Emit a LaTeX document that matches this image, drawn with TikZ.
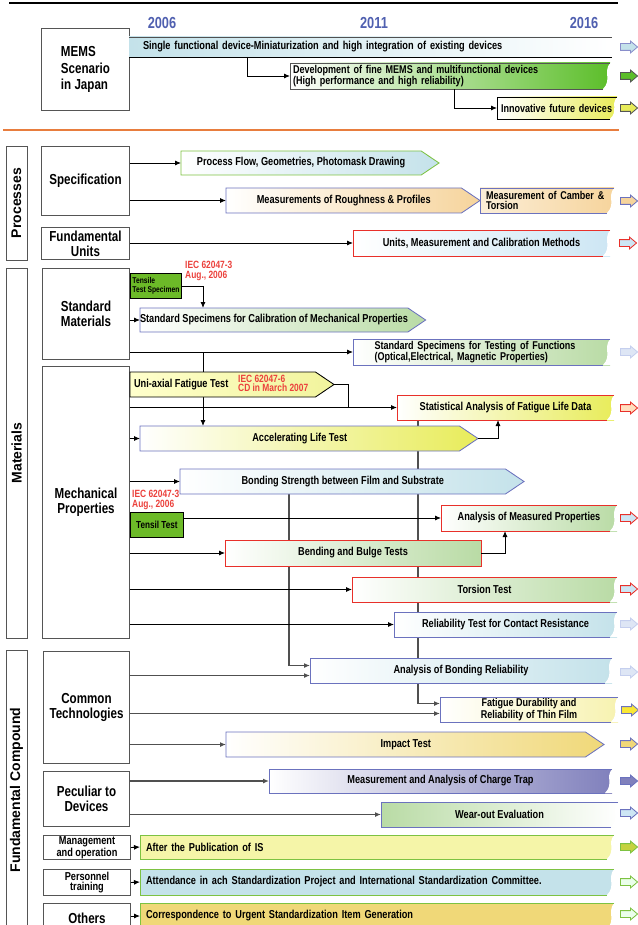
\documentclass[tikz,border=0pt]{standalone}
\usepackage{fontspec}
\setmainfont{Liberation Sans}[FakeStretch=0.8]
\newfontfamily\sidefont{Liberation Sans}
\usetikzlibrary{arrows.meta}
\usetikzlibrary{shapes.symbols,shapes.arrows}
\usetikzlibrary{backgrounds}
\tikzset{>={Latex[length=6pt,width=5pt]}}
\definecolor{boxgray}{RGB}{85,85,85}
\definecolor{linegray}{RGB}{80,80,80}
\definecolor{barblue}{RGB}{107,114,190}
\definecolor{barred}{RGB}{232,48,42}
\definecolor{bargreen}{RGB}{125,194,66}
\definecolor{yearblue}{RGB}{80,96,176}
\definecolor{orangeline}{RGB}{232,125,62}
\definecolor{notered}{RGB}{235,65,60}
\definecolor{paleblue}{RGB}{196,226,234}
\definecolor{peach}{RGB}{246,212,156}
\definecolor{skyblue}{RGB}{205,230,244}
\definecolor{leafgreen}{RGB}{185,219,165}
\definecolor{lemon}{RGB}{232,236,90}
\definecolor{gold}{RGB}{240,216,120}
\definecolor{cream}{RGB}{247,242,176}
\definecolor{violet}{RGB}{128,128,188}
\definecolor{grassgreen}{RGB}{92,190,42}
\definecolor{specgreen}{RGB}{108,186,40}
\definecolor{paleyellow}{RGB}{245,245,168}
\definecolor{fadeblue}{RGB}{222,230,245}
\definecolor{fadeline}{RGB}{197,207,238}
\tikzstyle{mainbox}=[draw=boxgray,line width=0.35mm,fill=white,align=center,inner sep=0pt,anchor=north west,font=\bfseries\fontsize{14.5}{15}\selectfont]
\tikzstyle{sidebox}=[draw=boxgray,line width=0.35mm,fill=white,inner sep=0pt,font=\sidefont\bfseries\fontsize{14}{14}\selectfont]
\tikzstyle{specbox}=[draw=black,line width=0.3mm,fill=specgreen,inner sep=0pt,anchor=north west,align=left]
\tikzstyle{bartext}=[inner sep=0pt,outer sep=0pt,anchor=north west,font=\bfseries\fontsize{11.5}{11}\selectfont]
\tikzstyle{smallbar}=[font=\bfseries\fontsize{11.3}{10.5}\selectfont]
\tikzstyle{arrowbar}=[bartext,shape=signal,signal to=east,signal pointer angle=68,line width=0.3mm]
\tikzstyle{notetext}=[inner sep=0pt,anchor=north west,align=left,text=notered,font=\bfseries\fontsize{10.5}{9.5}\selectfont]
\tikzstyle{tailarrow}=[single arrow,minimum height=17,single arrow head extend=2.5pt,single arrow tip angle=80,
  inner xsep=0pt,inner ysep=3pt,line width=0.3mm]
\tikzstyle{conn}=[->,draw=black,line width=0.3mm]
\tikzstyle{graylink}=[draw=linegray,line width=0.45mm]
% wavy right end of a bar node: #1 node, #2 border colour
\newcommand{\wavyedge}[2]{%
  \fill[white] (#1.north east) .. controls +(-7pt,-9pt) and +(9pt,9pt) .. ([xshift=-7pt]#1.south east)
    -- ([xshift=1pt]#1.south east) -- ([xshift=1pt]#1.north east) -- cycle;
  \draw[#2,line width=0.3mm] (#1.north east) -- (#1.north west) -- (#1.south west) -- ([xshift=-7pt]#1.south east);
}

\begin{document}
\begin{tikzpicture}[x=1pt,y=-1pt]
  \useasboundingbox (0,0) rectangle (637,925);

  % scenario
  \draw[line width=0.8mm] (9,3) -- (618,3);
  \node[text=yearblue,font=\bfseries\fontsize{16}{16}\selectfont] (y06) at (162,23) {2006};
  \node[text=yearblue,font=\bfseries\fontsize{16}{16}\selectfont] (y11) at (374,23) {2011};
  \node[text=yearblue,font=\bfseries\fontsize{16}{16}\selectfont] (y16) at (584,23) {2016};
  \node[mainbox,minimum width=88,minimum height=82,align=left,font=\bfseries\fontsize{14.5}{16.5}\selectfont] (mems) at (41,28) {MEMS\\Scenario\\in Japan};
  \node[bartext,minimum width=481,minimum height=20,inner xsep=14pt,text width=453,align=left,
    left color=paleblue,right color=white] (b1) at (129,37)
    {Single functional device-Miniaturization and high integration of existing devices};
  \draw[linegray] (b1.north west) -- ([xshift=2pt]b1.north east);
  \draw (b1.south west) -- ([xshift=2pt]b1.south east);
  \node[bartext,smallbar,minimum width=320,minimum height=26,inner xsep=3pt,text width=314,align=left,
    left color=white,right color=grassgreen] (b2) at (290,63)
    {Development of fine MEMS and multifunctional devices\\(High performance and high reliability)};
  \wavyedge{b2}{boxgray}
  \node[bartext,smallbar,minimum width=120,minimum height=22,inner xsep=4pt,text width=112,align=left,
    left color=white,right color=lemon] (b3) at (497,97)
    {Innovative future devices};
  \wavyedge{b3}{black}
  \coordinate (k1) at (247,57);
  \coordinate (k2) at (454,89);
  \draw[conn] (k1) |- (b2.west);
  \draw[conn] (k2) |- (b3.west);
  \node[tailarrow,fill=paleblue,draw=barblue!80] (t1) at (627,47) {};
  \node[tailarrow,fill=grassgreen,draw=boxgray] (t2) at (627,76) {};
  \node[tailarrow,fill=lemon,draw=boxgray] (t3) at (627,108) {};
  \draw[orangeline,line width=0.8mm] (3,130) -- (619,130);

  % processes
  \node[sidebox,rotate=90,minimum width=114,minimum height=21] (proc) at (16.5,203) {Processes};
  \node[mainbox,minimum width=88,minimum height=69] (spec) at (41,146) {Specification};
  \node[mainbox,minimum width=88,minimum height=32] (fu) at (41,227) {Fundamental\\Units};
  \node[arrowbar,draw=bargreen,left color=white,right color=paleblue,minimum width=258,minimum height=24] (pf) at (181,151)
    {Process Flow, Geometries, Photomask Drawing};
  \node[arrowbar,draw=barblue,left color=white,right color=peach,minimum width=254,minimum height=25] (mr) at (226,188)
    {Measurements of Roughness \& Profiles};
  \node[bartext,smallbar,minimum width=134,minimum height=25,inner xsep=6pt,text width=122,align=left,
    left color=peach!40,right color=peach] (cb) at (480,188)
    {Measurement of Camber \&\\Torsion};
  \wavyedge{cb}{barblue}
  \node[bartext,minimum width=257,minimum height=26,left color=white,right color=skyblue] (un) at (353,230)
    {Units, Measurement and Calibration Methods};
  \wavyedge{un}{barred}
  \draw[conn] (spec.east |- pf.west) -- (pf.west);
  \draw[conn] (spec.east |- mr.west) -- (mr.west);
  \draw[conn] (fu.east |- un.west) -- (un.west);
  \node[tailarrow,fill=peach,draw=barblue] (t4) at (627,201) {};
  \node[tailarrow,fill=skyblue,draw=barred] (t5) at (626,243) {};

  % materials
  \node[sidebox,rotate=90,minimum width=370,minimum height=21] (mat) at (16.5,453) {Materials};
  \node[mainbox,minimum width=87,minimum height=91] (sm) at (42,268) {Standard\\Materials};
  \node[specbox,minimum width=51,minimum height=25,inner xsep=1.5pt,font=\bfseries\fontsize{8.4}{9}\selectfont] (ts) at (130,273)
    {Tensile\\Test Specimen};
  \node[notetext] (n1) at (185,261) {IEC 62047-3\\Aug., 2006};
  \node[arrowbar,draw=barblue,left color=white,right color=leafgreen,minimum width=272,minimum height=24] (cal) at (140,308)
    {Standard Specimens for Calibration of Mechanical Properties};
  \node[bartext,smallbar,minimum width=257,minimum height=26,text width=214,align=left,left color=white,right color=leafgreen] (tf) at (353,339)
    {Standard Specimens for Testing of Functions\\(Optical,Electrical, Magnetic Properties)};
  \wavyedge{tf}{barblue}
  \coordinate (k3) at (203,308);
  \draw[conn] (ts.east) -| (k3);
  \draw[conn] (sm.east |- cal.west) -- (cal.west);
  \draw[conn] (sm.east |- tf.west) -- (tf.west);
  \node[tailarrow,fill=fadeblue,draw=fadeline] (t6) at (627,352) {};

  % mechanical properties
  \node[mainbox,minimum width=87,minimum height=272] (mp) at (42,366) {Mechanical\\Properties};
  \node[arrowbar,draw=black,left color=yellow!20,right color=lemon!60,minimum width=204,minimum height=25] (ua) at (130,372) {};
  \node[bartext,anchor=west] (uat) at (134,384.5) {Uni-axial Fatigue Test};
  \node[notetext,anchor=west] (n2) at (238,383.5) {IEC 62047-6\\CD in March 2007};
  \coordinate (k5) at (348,408);
  \draw[draw=black,line width=0.3mm] (ua.east) -| (k5);
  \node[bartext,minimum width=217,minimum height=25,left color=white,right color=lemon] (sa) at (397,395)
    {Statistical Analysis of Fatigue Life Data};
  \wavyedge{sa}{barred}
  \draw[conn] (mp.east |- sa.west) -- (sa.west);
  \node[arrowbar,draw=barblue,left color=white,right color=lemon,minimum width=338,minimum height=25] (al) at (140,426)
    {Accelerating Life Test};
  \draw[conn] (mp.east |- al.west) -- (al.west);
  \draw[conn] (al.east) -| ([xshift=-7.5pt]sa.south);
  \node[arrowbar,draw=barblue,left color=white,right color=paleblue,minimum width=344,minimum height=25] (bs) at (180,469)
    {Bonding Strength between Film and Substrate};
  \draw[conn] (mp.east |- bs.west) -- (bs.west);
  \node[notetext] (n3) at (132,490) {IEC 62047-3\\Aug., 2006};
  \node[specbox,minimum width=53,minimum height=25,font=\bfseries\fontsize{10.2}{10}\selectfont,align=center] (tt) at (130,512)
    {Tensil Test};
  \node[bartext,minimum width=176,minimum height=26,left color=white,right color=leafgreen] (am) at (441,505)
    {Analysis of Measured Properties};
  \wavyedge{am}{barred}
  \draw[conn] (tt.east |- am.west) -- (am.west);
  \node[bartext,draw=barred,line width=0.3mm,minimum width=256,minimum height=26,left color=white,right color=leafgreen] (bb) at (225,540)
    {Bending and Bulge Tests};
  \draw[conn] (mp.east |- bb.west) -- (bb.west);
  \draw[conn] (bb.east) -| ([xshift=-24pt]am.south);
  \node[bartext,minimum width=265,minimum height=25,left color=white,right color=leafgreen] (to) at (352,577)
    {Torsion Test};
  \wavyedge{to}{barred}
  \draw[conn] (mp.east |- to.west) -- (to.west);
  \node[bartext,minimum width=223,minimum height=25,left color=white,right color=paleblue] (rc) at (394,612)
    {Reliability Test for Contact Resistance};
  \wavyedge{rc}{barblue}
  \draw[conn] (mp.east |- rc.west) -- (rc.west);
  \node[tailarrow,fill=orange!25,draw=barred] (t7) at (627,408) {};
  \node[tailarrow,fill=skyblue,draw=barred] (t8) at (627,518) {};
  \node[tailarrow,fill=skyblue,draw=barred] (t9) at (627,589) {};
  \node[tailarrow,fill=fadeblue,draw=fadeline] (t10) at (627,624) {};

  % fundamental compound
  \node[sidebox,rotate=90,minimum width=280,minimum height=21] (fc) at (16.5,790) {Fundamental Compound};
  \node[mainbox,minimum width=86,minimum height=112] (ct) at (43,651) {Common\\Technologies};
  \node[bartext,minimum width=302,minimum height=25,left color=white,right color=paleblue] (br) at (310,658)
    {Analysis of Bonding Reliability};
  \wavyedge{br}{barblue}
  \node[bartext,smallbar,minimum width=178,minimum height=25,align=center,left color=white,right color=cream] (fd) at (440,697)
    {Fatigue Durability and\\Reliability of Thin Film};
  \wavyedge{fd}{barblue}
  \node[arrowbar,draw=barblue,left color=white,right color=gold,minimum width=378,minimum height=25] (im) at (226,732)
    {Impact Test};
  \coordinate (br1) at ([yshift=5pt]br.west);
  \coordinate (br2) at ([yshift=-5pt]br.west);
  \coordinate (fd1) at ([yshift=6pt]fd.west);
  \coordinate (fd2) at ([yshift=-4pt]fd.west);
  \draw[graylink,->] (ct.east |- br2) -- (br2);
  \draw[graylink,->] (ct.east |- fd2) -- (fd2);
  \draw[graylink,->] (ct.east |- im.west) -- (im.west);
  \node[mainbox,minimum width=86,minimum height=55] (pd) at (43,771) {Peculiar to\\Devices};
  \node[bartext,minimum width=343,minimum height=24,left color=white,right color=violet] (ch) at (269,769)
    {Measurement and Analysis of Charge Trap};
  \wavyedge{ch}{barblue}
  \node[bartext,minimum width=237,minimum height=25,left color=leafgreen,right color=white] (wo) at (381,802)
    {Wear-out Evaluation};
  \wavyedge{wo}{barblue}
  \draw[graylink,->] (pd.east |- ch.west) -- (ch.west);
  \draw[graylink,->] (pd.east |- wo.west) -- (wo.west);
  \node[mainbox,minimum width=87,minimum height=24,font=\bfseries\fontsize{11.5}{10.5}\selectfont] (mo) at (43,835) {Management\\and operation};
  \node[bartext,minimum width=474,minimum height=24,inner xsep=6pt,text width=462,align=left,fill=paleyellow] (ap) at (140,835)
    {After the Publication of IS};
  \wavyedge{ap}{bargreen}
  \node[mainbox,minimum width=87,minimum height=26,font=\bfseries\fontsize{11.5}{10.5}\selectfont] (pt) at (43,869) {Personnel\\training};
  \node[bartext,minimum width=474,minimum height=26,inner xsep=6pt,text width=462,align=left,fill=paleblue] (at) at (140,869)
    {Attendance in ach Standardization Project and International Standardization Committee.};
  \wavyedge{at}{bargreen}
  \node[mainbox,minimum width=87,minimum height=30] (ot) at (43,903) {Others};
  \node[bartext,minimum width=474,minimum height=26,inner xsep=6pt,text width=462,align=left,fill=gold] (cu) at (140,903)
    {Correspondence to Urgent Standardization Item Generation};
  \wavyedge{cu}{bargreen}
  \draw[conn] (mo.east) -- (ap.west);
  \draw[conn] (pt.east) -- (at.west);
  \draw[conn] (ot.east |- cu.west) -- (cu.west);
  \node[tailarrow,fill=fadeblue,draw=fadeline] (t11) at (627,672) {};
  \node[tailarrow,fill=yellow!60!gold,draw=barblue] (t12) at (628,710) {};
  \node[tailarrow,fill=gold,draw=barblue] (t13) at (627,744) {};
  \node[tailarrow,fill=violet,draw=barblue] (t14) at (627,781) {};
  \node[tailarrow,fill=skyblue,draw=barblue] (t15) at (627,813) {};
  \node[tailarrow,fill=yellow!50!bargreen,draw=bargreen] (t16) at (627,847) {};
  \node[tailarrow,fill=green!8,draw=bargreen] (t17) at (627,882) {};
  \node[tailarrow,fill=green!8,draw=bargreen] (t18) at (627,914) {};

  % lines running behind the bars
  \begin{scope}[on background layer]
    \coordinate (k4) at (203,352);
    \coordinate (k6) at (289,494);
    \coordinate (k7) at (418,420);
    \draw[conn] (k4) -- (k4 |- al.north);
    \draw[graylink,->] (k6) |- (br1);
    \draw[graylink,->] (k7) |- (fd1);
  \end{scope}
\end{tikzpicture}
\end{document}
